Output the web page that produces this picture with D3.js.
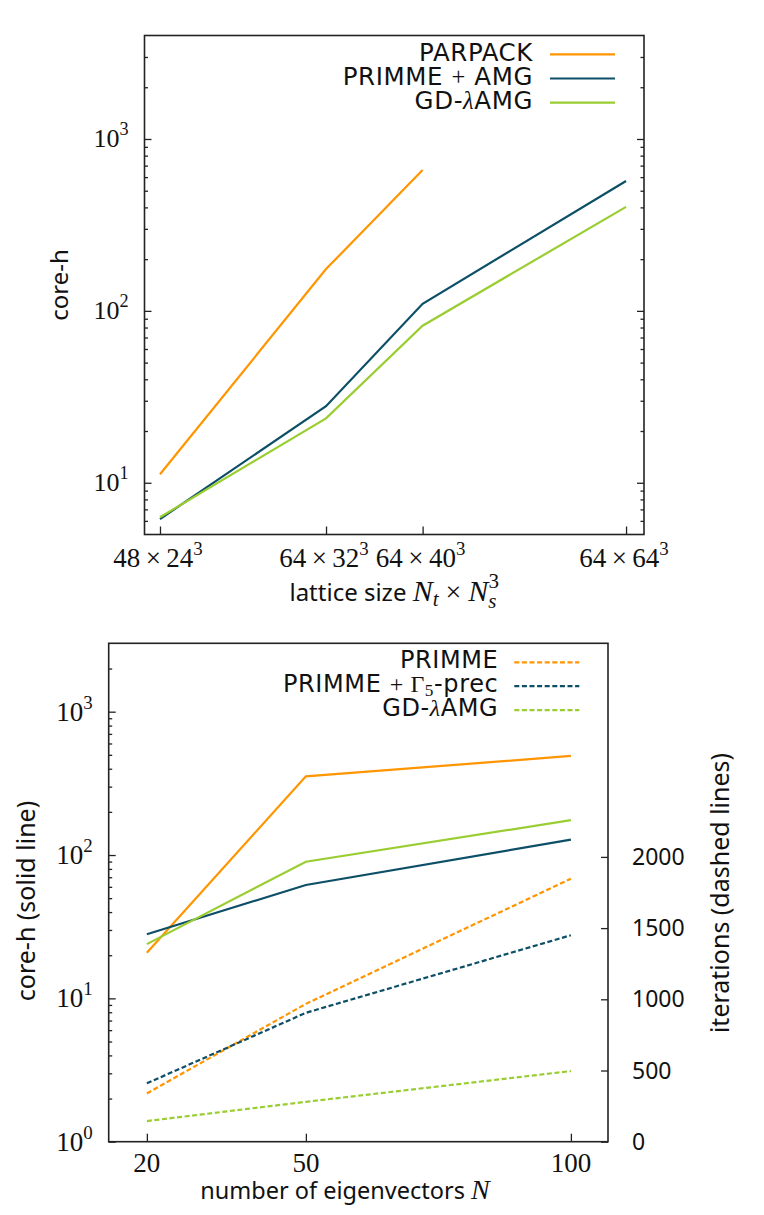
<!DOCTYPE html>
<html>
<head>
<meta charset="utf-8">
<script src="https://cdn.jsdelivr.net/npm/d3@7"></script>
<style>
  body { margin: 0; background: #fff; }
  svg text { fill: #111; }
  .sans { font-family: "Noto Sans", sans-serif; }
  .legend { font-family: "DejaVu Sans", sans-serif; letter-spacing: 0.6px; }
  .serif { font-family: "Liberation Serif", serif; }
  .axis line { stroke: #222; stroke-width: 1.3; }
  .axis path { display: none; }
</style>
</head>
<body>
<svg id="chart" width="764" height="1215"></svg>
<script>
// ---- top panel data: core-h vs lattice size ----
const latticeNt = [48, 64, 64, 64];
const latticeNs = [24, 32, 40, 64];
const coreParpack = [11.2, 175, 660];
const corePrimmeAmg = [6.15, 27.9, 110, 570];
const coreGdAmg = [6.3, 23.7, 82, 403];
const topLegend = ["PARPACK", "PRIMME + AMG", "GD-λAMG"];
const topYTicks = [10, 100, 1000];

// ---- bottom panel data: core-h / iterations vs number of eigenvectors ----
const eigenCounts = [20, 50, 100];
const corePrimme = [20.8, 354, 491];
const corePrimmeG5 = [28, 61.8, 128];
const coreGd = [23.9, 89.8, 175];
const iterPrimme = [339, 968, 1847];
const iterPrimmeG5 = [410, 905, 1450];
const iterGd = [145, 280, 496];
const bottomYTicks = [1, 10, 100, 1000];
const iterTicks = [0, 500, 1000, 1500, 2000];
const botLegend = ["PRIMME", "PRIMME + Γ5-prec", "GD-λAMG"];

const orange = "#ff9500", navy = "#0c4f66", green = "#9acd32";
const seriesColors = [orange, navy, green];

const svg = d3.select("#chart");
svg.append("rect").attr("width", 764).attr("height", 1215).attr("fill", "#fff");

function powLabel(text, exp) {
  text.append("tspan").text("10");
  text.append("tspan").attr("dy", -12).attr("font-size", "0.7em").text(exp);
}

function frame(b) {
  svg.append("rect")
    .attr("x", b.left).attr("y", b.top)
    .attr("width", b.right - b.left).attr("height", b.bottom - b.top)
    .attr("fill", "none").attr("stroke", "#222").attr("stroke-width", 1.6);
}

function drawLine(xs, ys, x, y, color, dashed) {
  const line = d3.line().x((d, i) => x(xs[i])).y(d => y(d));
  svg.append("path")
    .datum(ys)
    .attr("d", line)
    .attr("fill", "none")
    .attr("stroke", color)
    .attr("stroke-width", 2.2)
    .attr("stroke-dasharray", dashed ? "5,2.6" : null);
}

// legend entry text, with the math bits set in serif
function legendText(t, name) {
  if (name.includes("λ")) {
    t.append("tspan").text("GD-");
    t.append("tspan").attr("class", "serif").attr("font-style", "italic").text("λ");
    t.append("tspan").text("AMG");
  } else if (name.includes("Γ")) {
    t.append("tspan").text("PRIMME ");
    t.append("tspan").attr("class", "serif").text("+ Γ");
    t.append("tspan").attr("class", "serif").attr("font-size", "0.72em").attr("dy", 4).text("5");
    t.append("tspan").attr("dy", -4).text("-prec");
  } else if (name.includes("+")) {
    t.append("tspan").text("PRIMME ");
    t.append("tspan").attr("class", "serif").text("+");
    t.append("tspan").text(" AMG");
  } else {
    t.text(name);
  }
}

// ================= top panel =================
const tb = {left: 144.5, right: 644, top: 35.5, bottom: 534.5};
const volumes = latticeNt.map((t, i) => t * Math.pow(latticeNs[i], 3));
const xTop = d3.scaleLog().domain([5.96e5, 1.9e7]).range([tb.left, tb.right]);
const yTop = d3.scaleLog().domain([5, 4000]).range([tb.bottom, tb.top]);
const topMinor = yTop.ticks().filter(v => !topYTicks.includes(v) && v > 5 && v < 4000);

// y ticks on both sides, pointing inside
[[d3.axisRight, tb.left], [d3.axisLeft, tb.right]].forEach(([ax, px]) => {
  svg.append("g").attr("class", "axis").attr("transform", `translate(${px},0)`)
    .call(ax(yTop).tickValues(topYTicks).tickSize(7).tickFormat(""));
  svg.append("g").attr("class", "axis").attr("transform", `translate(${px},0)`)
    .call(ax(yTop).tickValues(topMinor).tickSize(3.5).tickFormat(""));
});
svg.append("g").attr("class", "axis").attr("transform", `translate(0,${tb.bottom})`)
  .call(d3.axisTop(xTop).tickValues(volumes).tickSize(8).tickFormat(""));

frame(tb);

topYTicks.forEach(v => {
  const t = svg.append("text").attr("class", "serif").attr("font-size", 26)
    .attr("x", tb.left - 16).attr("y", yTop(v) + 8).attr("text-anchor", "end");
  powLabel(t, Math.log10(v));
});

volumes.forEach((v, i) => {
  const t = svg.append("text").attr("class", "serif").attr("font-size", 27)
    .attr("x", xTop(v) - 2).attr("y", 567).attr("text-anchor", "middle");
  t.append("tspan").text(latticeNt[i] + "\u2009×\u2009" + latticeNs[i]);
  t.append("tspan").attr("dy", -12).attr("font-size", "0.7em").text("3");
});

drawLine(volumes, coreParpack, xTop, yTop, orange, false);
drawLine(volumes, corePrimmeAmg, xTop, yTop, navy, false);
drawLine(volumes, coreGdAmg, xTop, yTop, green, false);

// axis titles
svg.append("text").attr("class", "sans").attr("font-size", 24)
  .attr("transform", `translate(68,${(tb.top + tb.bottom) / 2}) rotate(-90)`)
  .attr("text-anchor", "middle").text("core-h");

const xt = svg.append("text").attr("class", "sans").attr("font-size", 24)
  .attr("x", (tb.left + tb.right) / 2).attr("y", 601).attr("text-anchor", "middle");
xt.append("tspan").text("lattice size ");
xt.append("tspan").attr("class", "serif").attr("font-style", "italic").attr("font-size", 30).text("N");
xt.append("tspan").attr("class", "serif").attr("font-style", "italic").attr("font-size", 21).attr("dy", 5).text("t");
xt.append("tspan").attr("class", "serif").attr("font-size", 28).attr("dy", -5).text(" × ");
xt.append("tspan").attr("class", "serif").attr("font-style", "italic").attr("font-size", 30).text("N");
xt.append("tspan").attr("class", "serif").attr("font-style", "italic").attr("font-size", 21).attr("dy", 7).text("s");
xt.append("tspan").attr("class", "serif").attr("font-size", 21).attr("dx", -8).attr("dy", -20).text("3");

// legend
topLegend.forEach((name, i) => {
  const ly = 54.3 + i * 24.2;
  svg.append("line").attr("x1", 550).attr("x2", 615).attr("y1", ly).attr("y2", ly)
    .attr("stroke", seriesColors[i]).attr("stroke-width", 2.2);
  const t = svg.append("text").attr("class", "legend").attr("font-size", 24.5)
    .attr("x", 533).attr("y", ly + 6.5).attr("text-anchor", "end");
  legendText(t, name);
});

// ================= bottom panel =================
const bb = {left: 108.7, right: 608, top: 643.3, bottom: 1141.7};
const xBot = d3.scaleLinear().domain([12.8, 107]).range([bb.left, bb.right]);
const yBot = d3.scaleLog().domain([1, 3000]).range([bb.bottom, bb.top]);
const yIter = d3.scaleLinear().domain([0, 3500]).range([bb.bottom, bb.top]);
const botMinor = yBot.ticks().filter(v => !bottomYTicks.includes(v) && v < 3000);

svg.append("g").attr("class", "axis").attr("transform", `translate(${bb.left},0)`)
  .call(d3.axisRight(yBot).tickValues(bottomYTicks).tickSize(7).tickFormat(""));
svg.append("g").attr("class", "axis").attr("transform", `translate(${bb.left},0)`)
  .call(d3.axisRight(yBot).tickValues(botMinor).tickSize(3.5).tickFormat(""));
svg.append("g").attr("class", "axis").attr("transform", `translate(${bb.right},0)`)
  .call(d3.axisLeft(yIter).tickValues(iterTicks).tickSize(7).tickFormat(""));
svg.append("g").attr("class", "axis").attr("transform", `translate(0,${bb.bottom})`)
  .call(d3.axisTop(xBot).tickValues(eigenCounts).tickSize(8).tickFormat(""));

frame(bb);

bottomYTicks.forEach(v => {
  const t = svg.append("text").attr("class", "serif").attr("font-size", 27)
    .attr("x", bb.left - 16).attr("y", yBot(v) + 9).attr("text-anchor", "end");
  powLabel(t, Math.log10(v));
});
iterTicks.forEach(v => {
  svg.append("text").attr("class", "sans").attr("font-size", 23)
    .attr("x", 632).attr("y", yIter(v) + 8).text(v);
});
eigenCounts.forEach(v => {
  svg.append("text").attr("class", "serif").attr("font-size", 27)
    .attr("x", xBot(v)).attr("y", 1172).attr("text-anchor", "middle").text(v);
});

drawLine(eigenCounts, corePrimme, xBot, yBot, orange, false);
drawLine(eigenCounts, corePrimmeG5, xBot, yBot, navy, false);
drawLine(eigenCounts, coreGd, xBot, yBot, green, false);
drawLine(eigenCounts, iterPrimme, xBot, yIter, orange, true);
drawLine(eigenCounts, iterPrimmeG5, xBot, yIter, navy, true);
drawLine(eigenCounts, iterGd, xBot, yIter, green, true);

svg.append("text").attr("class", "sans").attr("font-size", 25)
  .attr("transform", `translate(35,901) rotate(-90)`)
  .attr("text-anchor", "middle").text("core-h (solid line)");
svg.append("text").attr("class", "sans").attr("font-size", 25)
  .attr("transform", `translate(729,893) rotate(-90)`)
  .attr("text-anchor", "middle").text("iterations (dashed lines)");

const bx = svg.append("text").attr("class", "sans").attr("font-size", 23.5)
  .attr("x", 345).attr("y", 1199).attr("text-anchor", "middle");
bx.append("tspan").text("number of eigenvectors ");
bx.append("tspan").attr("class", "serif").attr("font-style", "italic").attr("font-size", 28).text("N");

botLegend.forEach((name, i) => {
  const ly = 662.3 + i * 23.9;
  svg.append("line").attr("x1", 514.3).attr("x2", 579.3).attr("y1", ly).attr("y2", ly)
    .attr("stroke", seriesColors[i]).attr("stroke-width", 2.2).attr("stroke-dasharray", "5,2.6");
  const t = svg.append("text").attr("class", "legend").attr("font-size", 24)
    .attr("x", 498.3).attr("y", ly + 6).attr("text-anchor", "end");
  legendText(t, name);
});
</script>
</body>
</html>
